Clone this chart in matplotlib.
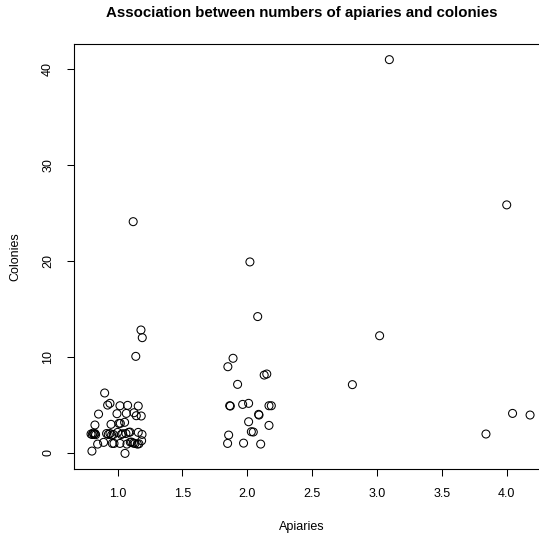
import matplotlib
matplotlib.use("Agg")
import matplotlib.pyplot as plt

plt.rcParams['font.family'] = ['Liberation Sans', 'DejaVu Sans']

title = "Association between numbers of apiaries and colonies"
x_label = "Apiaries"
y_label = "Colonies"

apiaries = [
    # outliers / upper points
    3.095, 4.00, 1.12, 2.02, 2.08, 3.02, 1.18, 1.19, 1.14, 1.89, 1.85,
    2.13, 2.15, 1.925, 2.81, 0.90, 4.045, 4.18, 3.84,
    # cluster around 2
    1.864, 1.869, 1.964, 2.01, 2.167, 2.185, 2.087, 2.09, 2.01, 2.167,
    2.031, 2.046, 1.856, 1.848, 1.971, 2.103,
    # cluster around 1
    0.923, 0.941, 1.018, 1.077, 1.159, 0.853, 0.995, 1.067, 1.126, 1.144,
    1.182, 0.825, 0.949, 1.010, 1.021, 1.054,
    0.795, 0.805, 0.812, 0.818, 0.825, 0.83,
    0.915, 0.928, 0.941, 0.954, 0.967, 1.00, 1.028, 1.039, 1.064, 1.085,
    1.095, 1.159, 1.188,
    0.846, 0.892, 0.959, 0.972, 1.018, 1.072, 1.098, 1.108, 1.121, 1.134,
    1.152, 1.164, 1.185, 0.802, 1.057,
]
colonies = [
    41.0, 25.85, 24.1, 19.9, 14.2, 12.2, 12.8, 12.0, 10.05, 9.85, 8.97,
    8.10, 8.21, 7.13, 7.10, 6.23, 4.10, 3.93, 1.95,
    4.90, 4.87, 5.04, 5.15, 4.90, 4.90, 4.0, 3.93, 3.23, 2.85,
    2.19, 2.16, 1.84, 0.97, 1.0, 0.90,
    4.97, 5.15, 4.90, 4.94, 4.87, 4.03, 4.07, 4.10, 4.17, 3.86,
    3.83, 2.89, 2.96, 3.06, 3.06, 3.17,
    1.95, 1.9, 2.05, 1.92, 2.0, 1.88,
    2.0, 1.9, 2.0, 1.85, 1.9, 2.12, 1.9, 1.98, 2.0, 2.12,
    2.15, 2.12, 1.91,
    0.9, 1.08, 0.97, 0.97, 0.97, 0.90, 1.1, 1.1, 1.0, 0.97,
    0.9, 0.93, 1.25, 0.17, -0.07,
]

x_ticks = [1.0, 1.5, 2.0, 2.5, 3.0, 3.5, 4.0]
x_ticklabels = ["1.0", "1.5", "2.0", "2.5", "3.0", "3.5", "4.0"]
y_ticks = [0, 10, 20, 30, 40]
y_ticklabels = ["0", "10", "20", "30", "40"]

W, H = 539, 538
fig = plt.figure(figsize=(W / 100, H / 100), dpi=100)
left, right, top, bottom = 74.3, 550.3, 44.3, 469.3
ax = fig.add_axes([left / W, (H - bottom) / H, (right - left) / W, (bottom - top) / H])

ax.scatter(apiaries, colonies, s=33, facecolors='none', edgecolors='black', linewidths=0.75)

ax.set_xlim(0.666, 4.336)
ax.set_ylim(-1.73, 42.6)

ax.set_xticks(x_ticks)
ax.set_xticklabels(x_ticklabels)
ax.set_yticks(y_ticks)
ax.set_yticklabels(y_ticklabels, rotation=90, va='center')

ax.tick_params(axis='both', length=5, width=0.75, labelsize=9, color='black')
ax.tick_params(axis='x', pad=8.5)
ax.tick_params(axis='y', pad=9.5)

for sp in ax.spines.values():
    sp.set_linewidth(0.8)
    sp.set_color('black')

fig.text(302 / W, 1 - 17 / H, title, ha='center', va='baseline', fontsize=10.8, fontweight='bold')
fig.text(302 / W, 1 - 527 / H, x_label, ha='center', va='center', fontsize=9)
fig.text(15 / W, 1 - 257 / H, y_label, ha='center', va='center', fontsize=9, rotation=90)

fig.savefig("out.png", dpi=100)
